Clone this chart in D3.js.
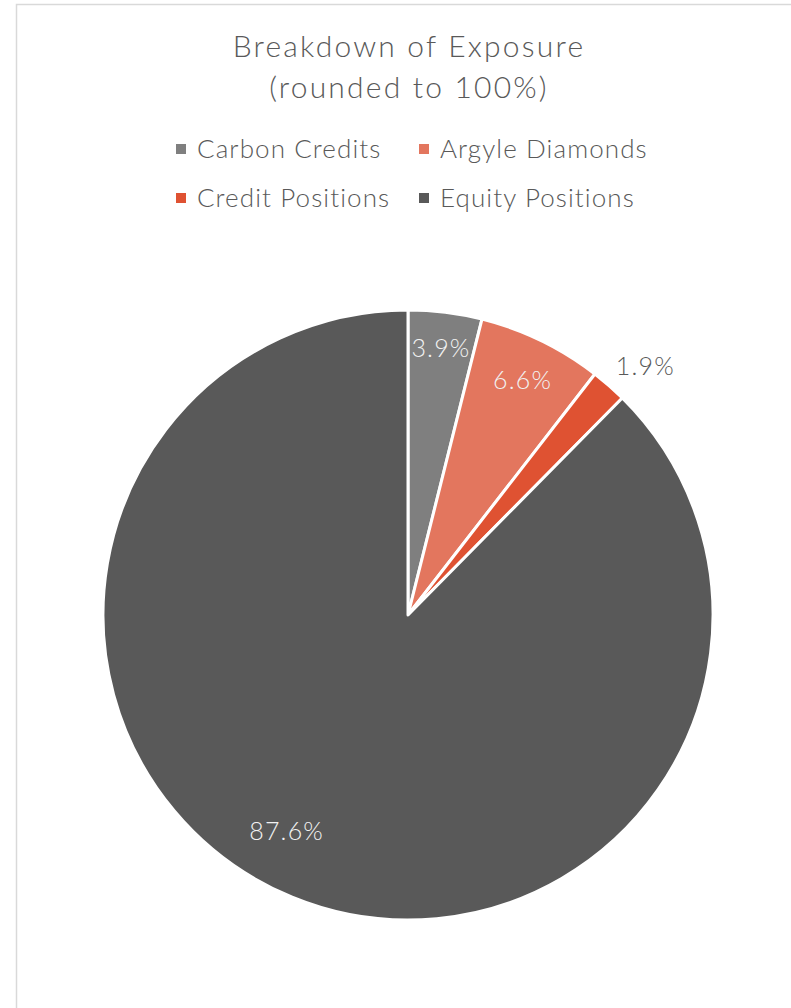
<!DOCTYPE html>
<html>
<head>
<meta charset="utf-8">
<script src="https://cdn.jsdelivr.net/npm/d3@7"></script>
<style>
  html, body { margin: 0; padding: 0; background: #fff; }
  svg { display: block; }
  text { font-family: Lato, "Open Sans", sans-serif; font-weight: 300; }
</style>
</head>
<body>
<script>
// Exposure breakdown, percent of total
const categories = ["Carbon Credits", "Argyle Diamonds", "Credit Positions", "Equity Positions"];
const values = [3.9, 6.6, 1.9, 87.6];
const valueLabels = ["3.9%", "6.6%", "1.9%", "87.6%"];
const colors = ["#7f7f7f", "#e3765e", "#df5232", "#595959"];

const W = 791, H = 1008;
const svg = d3.select("body").append("svg").attr("width", W).attr("height", H);

// chart frame
svg.append("rect")
  .attr("x", 16.5).attr("y", 4.5)
  .attr("width", W + 10).attr("height", H + 10)
  .attr("fill", "#fff").attr("stroke", "#d9d9d9").attr("stroke-width", 1.5);

// title
const title = svg.append("text")
  .attr("text-anchor", "middle")
  .attr("fill", "#595959")
  .style("font-size", "30px")
  .style("letter-spacing", "2.2px");
title.append("tspan").attr("x", 409).attr("y", 57).text("Breakdown of Exposure");
title.append("tspan").attr("x", 409).attr("y", 98).text("(rounded to 100%)");

// legend, two columns
const legendX = [176, 419], legendY = [149, 198];
const legend = svg.append("g").selectAll("g").data(categories).join("g")
  .attr("transform", (d, i) => `translate(${legendX[i % 2]},${legendY[Math.floor(i / 2)]})`);
legend.append("rect").attr("x", 0).attr("y", -5).attr("width", 10).attr("height", 10)
  .attr("fill", (d, i) => colors[i]);
legend.append("text").attr("x", 21).attr("y", 9)
  .attr("fill", "#595959").style("font-size", "26px").style("letter-spacing", "1.1px")
  .text(d => d);

// pie
const cx = 408, cy = 615, R = 305;
const pie = d3.pie().sort(null).value(d => d)(values);
const arc = d3.arc().innerRadius(0).outerRadius(R);
const g = svg.append("g").attr("transform", `translate(${cx},${cy})`);
g.selectAll("path").data(pie).join("path")
  .attr("d", arc)
  .attr("fill", (d, i) => colors[i])
  .attr("stroke", "#fff").attr("stroke-width", 3).attr("stroke-linejoin", "round");

// data labels: inside for larger slices, outside for the thin one
const labelR = [0.885, 0.86, 1.13, 0.81];
const labelAngleShift = [0, 0, 0.04, 0.124];
const labelFill = ["#f2f2f2", "#f2f2f2", "#595959", "#f2f2f2"];
g.selectAll("text.lbl").data(pie).join("text")
  .attr("class", "lbl")
  .attr("text-anchor", "middle")
  .attr("dominant-baseline", "central")
  .attr("fill", (d, i) => labelFill[i])
  .style("font-size", "25px")
  .style("letter-spacing", "1.2px")
  .attr("x", (d, i) => {
    const a = (d.startAngle + d.endAngle) / 2 + labelAngleShift[i];
    return Math.sin(a) * R * labelR[i];
  })
  .attr("y", (d, i) => {
    const a = (d.startAngle + d.endAngle) / 2 + labelAngleShift[i];
    return -Math.cos(a) * R * labelR[i];
  })
  .text((d, i) => valueLabels[i]);
</script>
</body>
</html>
